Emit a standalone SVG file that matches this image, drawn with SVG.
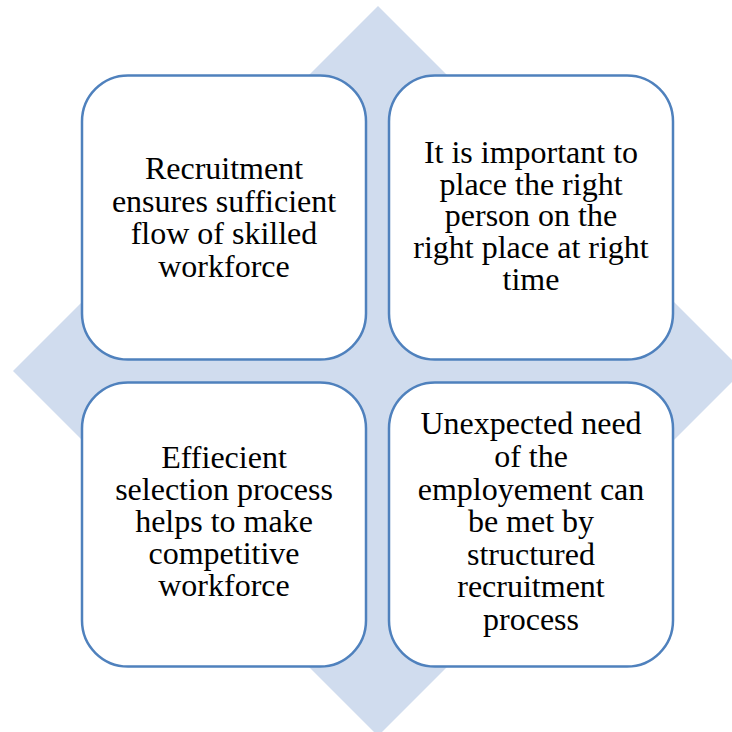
<svg xmlns="http://www.w3.org/2000/svg" width="732" height="732" viewBox="0 0 732 732">
<style>
.box{fill:#ffffff;stroke:#4f81bd;stroke-width:2.5}
.t{font-family:'Liberation Serif','Times New Roman',Times,'DejaVu Serif',serif;font-size:32px;fill:#000000;text-anchor:middle}
</style>
<rect width="732" height="732" fill="#ffffff"/>
<polygon id="diamond" points="378,6 743,371 378,736 13,371" fill="#d0dcee"/>
<g id="connectors"/>
<g id="node-tl">
<rect class="box" x="82" y="75.5" width="284" height="284" rx="46" ry="46"/>
<text class="t"><tspan x="224" y="179">Recruitment</tspan><tspan x="224" y="211.5">ensures sufficient</tspan><tspan x="224" y="244">flow of skilled</tspan><tspan x="224" y="276.5">workforce</tspan></text>
</g>
<g id="node-tr">
<rect class="box" x="389" y="75.5" width="284" height="284" rx="46" ry="46"/>
<text class="t"><tspan x="531" y="162.7">It is important to</tspan><tspan x="531" y="194.5">place the right</tspan><tspan x="531" y="226.2">person on the</tspan><tspan x="531" y="258">right place at right</tspan><tspan x="531" y="289.7">time</tspan></text>
</g>
<g id="node-bl">
<rect class="box" x="82" y="382.5" width="284" height="284" rx="46" ry="46"/>
<text class="t"><tspan x="224" y="467.7">Effiecient</tspan><tspan x="224" y="500">selection process</tspan><tspan x="224" y="532">helps to make</tspan><tspan x="224" y="564">competitive</tspan><tspan x="224" y="596">workforce</tspan></text>
</g>
<g id="node-br">
<rect class="box" x="389" y="382.5" width="284" height="284" rx="46" ry="46"/>
<text class="t"><tspan x="531" y="434.3">Unexpected need</tspan><tspan x="531" y="466.7">of the</tspan><tspan x="531" y="499.5">employement can</tspan><tspan x="531" y="531.8">be met by</tspan><tspan x="531" y="564.5">structured</tspan><tspan x="531" y="596.8">recruitment</tspan><tspan x="531" y="629.5">process</tspan></text>
</g>
</svg>
